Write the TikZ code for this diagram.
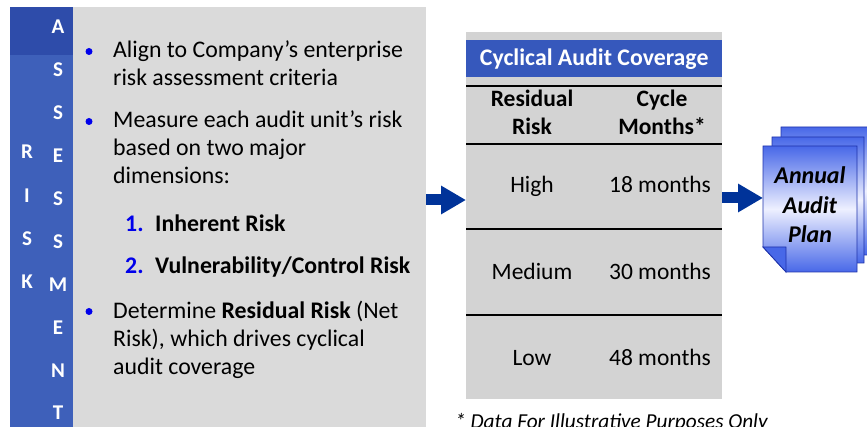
\documentclass[tikz,border=0pt]{standalone}
\usepackage{fontspec}
\setmainfont{Carlito}
\usetikzlibrary{shapes, arrows.meta, positioning}
\definecolor{stripblue}{RGB}{62,96,186}
\definecolor{stripdark}{RGB}{46,76,170}
\definecolor{panelgray}{RGB}{218,218,218}
\definecolor{tablegray}{RGB}{211,211,211}
\definecolor{headblue}{RGB}{54,88,188}
\definecolor{arrowblue}{RGB}{0,51,153}
\definecolor{dotblue}{RGB}{0,0,235}
\definecolor{pageblue}{RGB}{72,104,232}
\definecolor{pagelight}{RGB}{238,240,255}
\definecolor{pageedge}{RGB}{30,50,170}
\tikzstyle{letter}=[text=white, inner sep=0pt, font=\fontsize{21}{21}\selectfont\bfseries]
\tikzstyle{body}=[anchor=base west, align=left, inner sep=0pt, font=\fontsize{23.8}{28}\selectfont]
\tikzstyle{dot}=[circle, fill=dotblue, minimum size=7pt, inner sep=0pt]
\tikzstyle{cell}=[anchor=base, align=center, inner sep=0pt, font=\fontsize{23.5}{28}\selectfont]
\tikzstyle{rule}=[line width=1.6pt]
\tikzstyle{flow}=[line width=11pt, arrowblue, -{Triangle[length=25pt,width=27pt]}]
\tikzstyle{page}=[draw=pageedge, line width=0.8pt, top color=pageblue, bottom color=pageblue, middle color=pagelight]

\begin{document}
\begin{tikzpicture}[x=1pt, y=-1pt]
  \useasboundingbox (0,0) rectangle (867,427);
  \clip (0,0) rectangle (867,427);
  % left panel and strip
  \node[fill=panelgray, minimum width=353pt, minimum height=420pt, inner sep=0pt, anchor=north west] (panel) at (73,7) {};
  \node[fill=stripblue, minimum width=63pt, minimum height=420pt, inner sep=0pt, anchor=north west] (strip) at (10,7) {};
  \fill[stripdark] (strip.north west) rectangle (73,55);
  \foreach \ch [count=\i] in {A,S,S,E,S,S,M,E,N,T}
    \node[letter] (as\i) at (58,{27+42.9*(\i-1)}) {\ch};
  \foreach \ch [count=\i] in {R,I,S,K}
    \node[letter] (rk\i) at (27,{152+43.3*(\i-1)}) {\ch};

  % bullets (base = last line)
  \node[dot] (dot1) at (89,51.5) {};
  \node[body] (b1) at (113,86) {Align to Company’s enterprise\\risk assessment criteria};
  \node[dot] (dot2) at (89,121.5) {};
  \node[body] (b2) at (113,184) {Measure each audit unit’s risk\\based on two major\\dimensions:};
  \node[body, font=\fontsize{23.8}{28}\selectfont\bfseries, text=dotblue] (n1) at (125,232) {1.};
  \node[body, font=\fontsize{23.8}{28}\selectfont\bfseries] (t1) at (155,232) {Inherent Risk};
  \node[body, font=\fontsize{23.8}{28}\selectfont\bfseries, text=dotblue] (n2) at (125,274) {2.};
  \node[body, font=\fontsize{23.8}{28}\selectfont\bfseries] (t2) at (155,274) {Vulnerability/Control Risk};
  \node[dot] (dot3) at (89,311.5) {};
  \node[body] (b3) at (113,374) {Determine \textbf{Residual Risk} (Net\\Risk), which drives cyclical\\audit coverage};

  % coverage table
  \node[fill=tablegray, minimum width=256pt, minimum height=367pt, inner sep=0pt, anchor=north west] (table) at (466,32) {};
  \node[fill=headblue, minimum width=256pt, minimum height=37pt, inner sep=0pt, anchor=north west,
        text=white, font=\fontsize{23.8}{23.8}\selectfont\bfseries] (head) at (466,40) {Cyclical Audit Coverage};
  \foreach \ry in {86,144,229,315}
    \draw[rule] (table.west |- 0,\ry) -- (table.east |- 0,\ry);
  \node[cell, font=\fontsize{23.5}{28}\selectfont\bfseries] (hres) at (532,135) {Residual\\Risk};
  \node[cell, font=\fontsize{23.5}{28}\selectfont\bfseries] (hcyc) at (662,135) {Cycle\\Months*};
  \node[cell] (high) at (532,193) {High};
  \node[cell] (mhigh) at (660,193) {18 months};
  \node[cell] (medium) at (532,280) {Medium};
  \node[cell] (mmed) at (660,280) {30 months};
  \node[cell] (low) at (532,366) {Low};
  \node[cell] (mlow) at (660,366) {48 months};
  \node[anchor=base west, inner sep=0pt, font=\fontsize{21.3}{21.3}\selectfont\itshape] (note) at (455,428) {* Data For Illustrative Purposes Only};

  % annual audit plan stack
  \shade[page] (781,127) -- (875,127) -- (875,255) -- (804,255) -- (781,230) -- cycle;
  \shade[page] (772,137) -- (864,137) -- (864,263) -- (795,263) -- (772,238) -- cycle;
  \shade[page] (763,146) -- (857,146) -- (857,272) -- (786,272) -- (763,247) -- cycle;
  \filldraw[fill=pageblue, draw=pageedge, line width=0.8pt] (763,247) -- (786,247) -- (786,272) -- cycle;
  \node[minimum width=94pt, minimum height=126pt, inner sep=0pt, anchor=north west] (page1) at (763,146) {};
  \node[align=center, inner sep=0pt, font=\fontsize{24}{29.5}\selectfont\bfseries\itshape] (plan) at (810,205) {Annual\\Audit\\Plan};

  % flow arrows
  \draw[flow] (panel.east |- 0,200) -- (table.west |- 0,200);
  \draw[flow] (table.east |- 0,198) -- (page1.west |- 0,198);
\end{tikzpicture}
\end{document}
